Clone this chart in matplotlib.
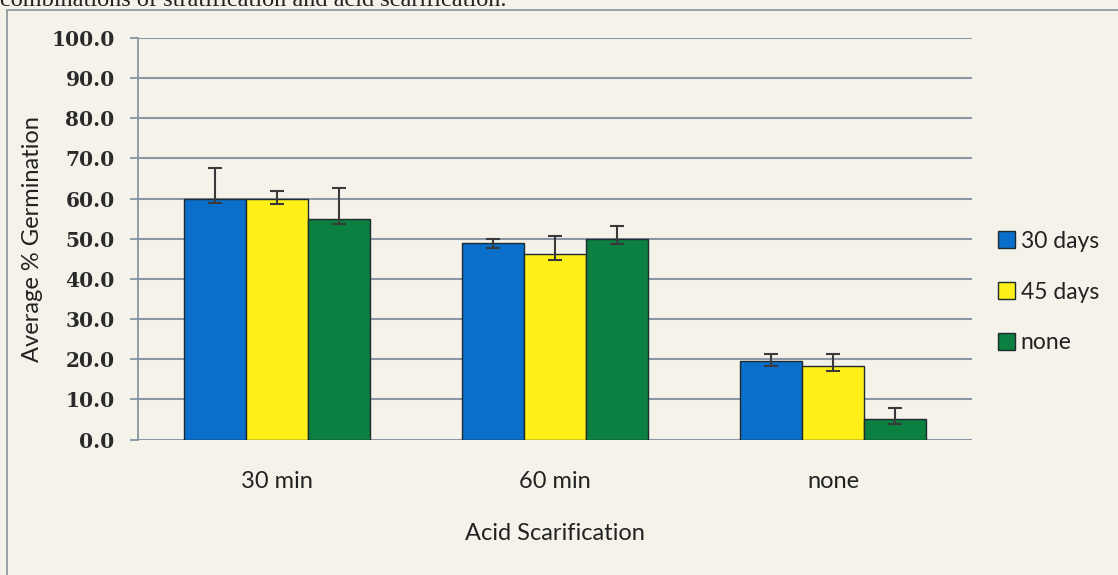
import matplotlib
matplotlib.use("Agg")
import matplotlib.pyplot as plt
import numpy as np
from matplotlib.patches import Rectangle

categories = ["30 min", "60 min", "none"]
series_names = ["30 days", "45 days", "none"]
vals_30 = [60.0, 48.9, 19.5]
vals_45 = [60.0, 46.1, 18.2]
vals_none = [54.8, 49.9, 5.2]
err_up_30 = [7.5, 1.0, 1.9]
err_up_45 = [1.8, 4.7, 3.2]
err_up_none = [7.8, 3.3, 2.7]
err_lo_30 = [1.2, 1.2, 1.2]
err_lo_45 = [1.3, 1.3, 1.1]
err_lo_none = [1.2, 1.1, 1.3]
yticks = [0, 10, 20, 30, 40, 50, 60, 70, 80, 90, 100]

colors = ["#0a6fca", "#fff01a", "#0b8040"]
bg = "#f5f2ea"

W, H = 1118, 575
fig = plt.figure(figsize=(W / 100, H / 100), dpi=100, facecolor=bg)
ax = fig.add_axes([138 / W, 1 - 439.5 / H, (972 - 138) / W, (439.5 - 38) / H])
ax.set_facecolor(bg)

# outer frame
fig.patches.append(Rectangle((7 / W, -0.05), 1.2, 1 - 10 / H + 0.05,
                             transform=fig.transFigure, fill=False,
                             edgecolor="#8c9496", lw=1.2, zorder=0))
fig.text(0.0, 1 - 5.5 / H, "combinations of stratification and acid scarification.",
         family="Liberation Serif", fontsize=17.5, va="baseline", ha="left", color="#222222")

x = np.arange(len(categories))
bw = 1 / 4.5
all_vals = [vals_30, vals_45, vals_none]
all_up = [err_up_30, err_up_45, err_up_none]
all_lo = [err_lo_30, err_lo_45, err_lo_none]
for i, (v, up, lo) in enumerate(zip(all_vals, all_up, all_lo)):
    pos = x + (i - 1) * bw
    ax.bar(pos, v, width=bw, color=colors[i], edgecolor="#1e2a2e", lw=1.0,
           label=series_names[i], zorder=3)
    ax.errorbar(pos, v, yerr=[lo, up], fmt="none", ecolor="#3a3a3a",
                elinewidth=1.5, capsize=4.7, capthick=1.5, zorder=4)

ax.set_xlim(-0.5, 2.5)
ax.set_ylim(0, 100)
ax.set_yticks(yticks)
ax.set_yticklabels([f"{t:.1f}" for t in yticks], family="DejaVu Serif",
                   fontweight="bold", fontsize=14.5, color="#2a2a2a")
ax.yaxis.grid(True, color="#8a96a4", lw=1.5, zorder=0)
ax.set_axisbelow(True)
for s in ["top", "right", "bottom"]:
    ax.spines[s].set_visible(False)
ax.spines["left"].set_color("#7d8fa0")
ax.spines["left"].set_linewidth(1.2)
ax.tick_params(axis="y", length=5.8, width=1.2, color="#7d8fa0", pad=11)
ax.set_xticks(x)
ax.set_xticklabels(categories, family="Lato", fontsize=17, color="#222222")
ax.tick_params(axis="x", length=0, pad=23)
ax.set_xlabel("Acid Scarification", family="Lato", fontsize=17, color="#222222",
              labelpad=22)
ax.set_ylabel("Average % Germination", family="Lato", fontsize=17, color="#222222",
              labelpad=6)

leg = ax.legend(loc="center left", bbox_to_anchor=(1.02, 0.367), frameon=False,
                prop={"family": "Lato", "size": 16.5}, handlelength=0.75,
                handleheight=0.75, handletextpad=0.25, labelspacing=1.3,
                borderaxespad=0.0)
for t in leg.get_texts():
    t.set_color("#222222")

fig.savefig("out.png", dpi=100, facecolor=bg)
